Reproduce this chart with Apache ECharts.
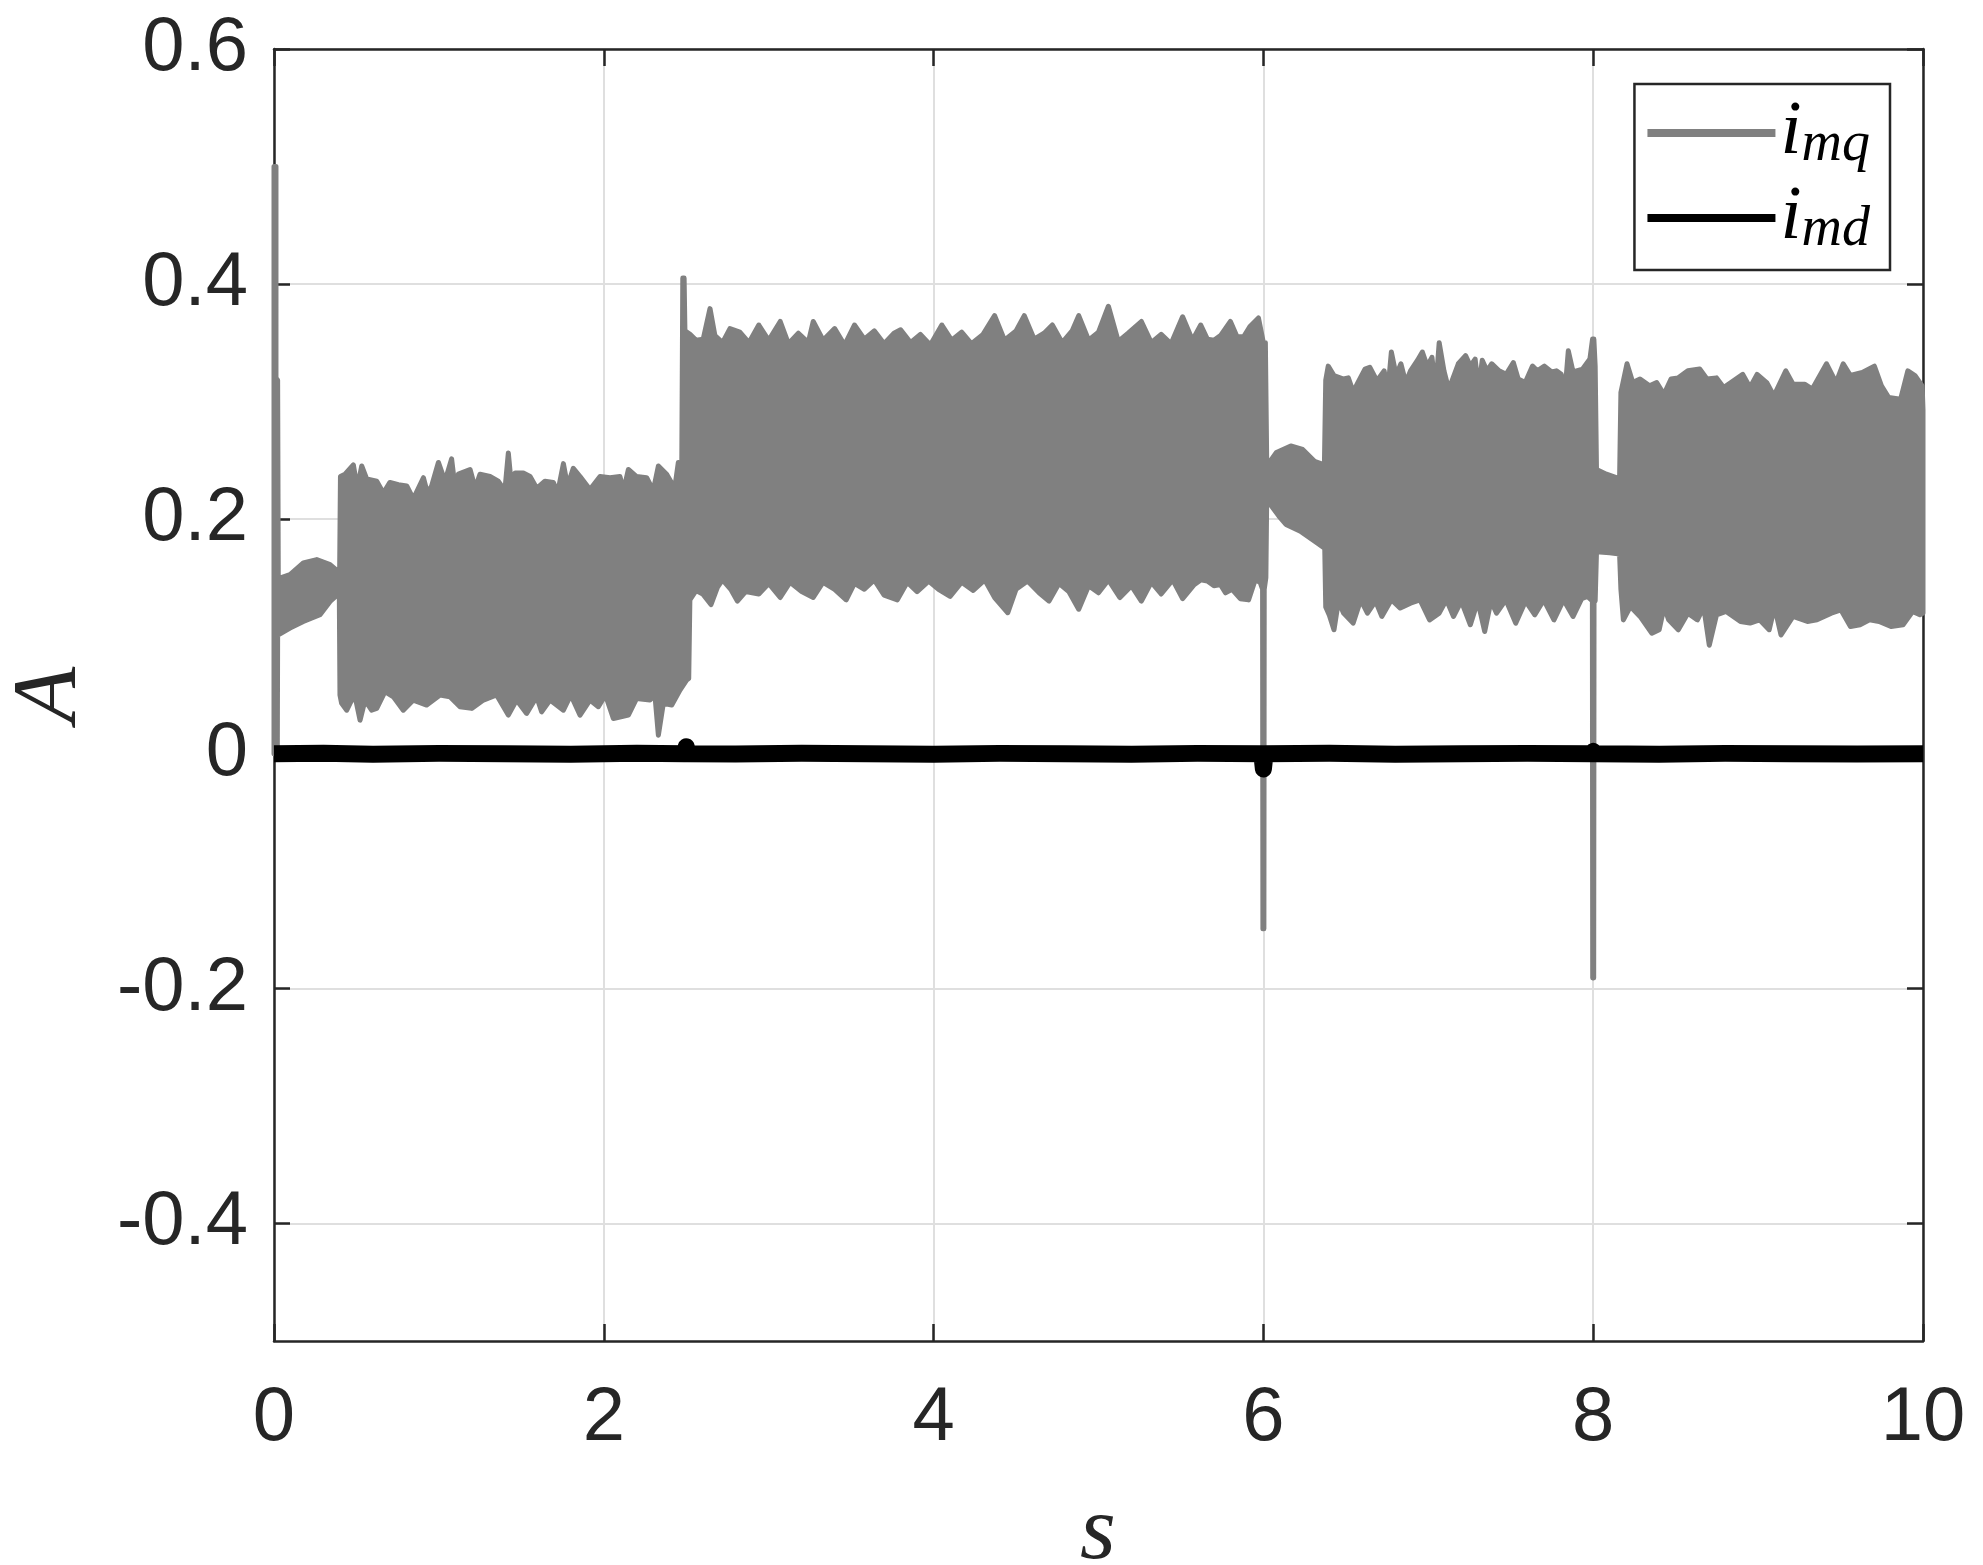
<!DOCTYPE html>
<html>
<head>
    <meta charset="utf-8">
    <title>imq / imd</title>
    <script src="https://cdn.jsdelivr.net/npm/echarts@6/dist/echarts.min.js"></script>
    <style>
        html, body { margin: 0; padding: 0; background: #fff; }
        #main { width: 1983px; height: 1565px; }
    </style>
</head>
<body>
<div id="main"></div>
<script>
    // axis ticks
    var xTicks = [0, 2, 4, 6, 8, 10];
    var yTicks = [-0.4, -0.2, 0, 0.2, 0.4, 0.6];

    // i_mq : upper edge of the gray band, [t, value]
    var qUpper = [
        [0, 0], [0, 0.5], [0.012, 0.5], [0.012, 0.32], [0.022, 0.318], [0.026, 0.149], [0.097, 0.1525],
        [0.178, 0.1624], [0.259, 0.1653], [0.34, 0.161], [0.39, 0.155], [0.398, 0.155],
        [0.403, 0.236], [0.431, 0.238], [0.481, 0.246], [0.505, 0.226], [0.532, 0.245], [0.562, 0.234],
        [0.623, 0.232], [0.663, 0.222], [0.703, 0.231], [0.754, 0.229], [0.805, 0.228], [0.845, 0.217],
        [0.906, 0.235], [0.93, 0.222], [0.956, 0.228], [0.997, 0.248], [1.037, 0.232], [1.077, 0.251],
        [1.1, 0.224], [1.118, 0.238], [1.189, 0.242], [1.22, 0.226], [1.249, 0.238], [1.31, 0.236],
        [1.36, 0.232], [1.4, 0.224], [1.421, 0.256], [1.44, 0.228], [1.462, 0.239], [1.512, 0.239],
        [1.553, 0.236], [1.593, 0.226], [1.643, 0.232], [1.694, 0.231], [1.72, 0.222], [1.755, 0.247],
        [1.78, 0.228], [1.815, 0.243], [1.856, 0.236], [1.916, 0.225], [1.977, 0.236], [2.038, 0.235],
        [2.098, 0.236], [2.12, 0.224], [2.149, 0.242], [2.199, 0.236], [2.26, 0.235], [2.3, 0.224],
        [2.331, 0.245], [2.381, 0.238], [2.43, 0.226], [2.452, 0.248], [2.472, 0.224],
        [2.479, 0.405], [2.487, 0.405], [2.492, 0.36],
        [2.523, 0.357], [2.56, 0.352], [2.603, 0.353], [2.644, 0.379], [2.674, 0.356], [2.72, 0.35],
        [2.765, 0.362], [2.825, 0.359], [2.88, 0.35], [2.94, 0.365], [3.0, 0.352], [3.07, 0.368],
        [3.12, 0.349], [3.18, 0.358], [3.24, 0.35], [3.27, 0.368], [3.33, 0.352], [3.4, 0.362],
        [3.46, 0.348], [3.52, 0.365], [3.58, 0.353], [3.64, 0.36], [3.7, 0.349], [3.76, 0.358],
        [3.8, 0.361], [3.86, 0.35], [3.92, 0.357], [3.98, 0.348], [4.05, 0.365], [4.11, 0.352],
        [4.17, 0.359], [4.23, 0.349], [4.3, 0.357], [4.37, 0.373], [4.43, 0.352], [4.5, 0.36],
        [4.55, 0.373], [4.61, 0.353], [4.67, 0.358], [4.72, 0.365], [4.78, 0.35], [4.84, 0.36],
        [4.88, 0.373], [4.94, 0.352], [5.0, 0.359], [5.06, 0.381], [5.12, 0.351], [5.18, 0.358],
        [5.26, 0.368], [5.32, 0.35], [5.38, 0.357], [5.44, 0.349], [5.51, 0.372], [5.57, 0.352],
        [5.62, 0.365], [5.66, 0.353], [5.7, 0.352], [5.74, 0.356], [5.8, 0.368], [5.84, 0.355],
        [5.88, 0.355], [5.92, 0.364], [5.97, 0.371], [6.0, 0.35], [6.012, 0.35],
        [6.02, 0.25], [6.036, 0.248], [6.079, 0.2565], [6.166, 0.262], [6.238, 0.259], [6.31, 0.249],
        [6.37, 0.246],
        [6.378, 0.318], [6.393, 0.33], [6.428, 0.322], [6.486, 0.319], [6.515, 0.32], [6.545, 0.308],
        [6.573, 0.316], [6.616, 0.3275], [6.645, 0.329], [6.689, 0.3175], [6.732, 0.326], [6.755, 0.309],
        [6.776, 0.342], [6.805, 0.322], [6.834, 0.332], [6.863, 0.316], [6.892, 0.326], [6.935, 0.335],
        [6.964, 0.342], [6.993, 0.33], [7.022, 0.3375], [7.045, 0.31], [7.066, 0.35], [7.095, 0.326],
        [7.124, 0.31], [7.182, 0.332], [7.226, 0.339], [7.255, 0.33], [7.284, 0.336], [7.305, 0.31],
        [7.327, 0.335], [7.356, 0.326], [7.385, 0.332], [7.429, 0.326], [7.472, 0.323], [7.516, 0.333],
        [7.545, 0.319], [7.588, 0.316], [7.632, 0.33], [7.661, 0.326], [7.704, 0.33], [7.748, 0.325],
        [7.777, 0.326], [7.806, 0.323], [7.83, 0.31], [7.849, 0.343], [7.878, 0.325], [7.936, 0.3275],
        [7.98, 0.336], [7.996, 0.353], [8.004, 0.353], [8.012, 0.33],
        [8.02, 0.242], [8.08, 0.238], [8.14, 0.235], [8.16, 0.234],
        [8.168, 0.3076], [8.205, 0.332], [8.24, 0.316], [8.284, 0.319], [8.342, 0.3132], [8.385, 0.316],
        [8.429, 0.3061], [8.472, 0.319], [8.516, 0.32], [8.574, 0.326], [8.646, 0.3275], [8.69, 0.319],
        [8.748, 0.32], [8.791, 0.3118], [8.835, 0.316], [8.907, 0.323], [8.951, 0.3118], [8.994, 0.323],
        [9.052, 0.316], [9.096, 0.3047], [9.168, 0.326], [9.212, 0.3146], [9.284, 0.3146], [9.328, 0.3104],
        [9.415, 0.332], [9.473, 0.316], [9.516, 0.332], [9.56, 0.322], [9.632, 0.3246], [9.705, 0.33],
        [9.748, 0.3132], [9.792, 0.3033], [9.864, 0.3018], [9.908, 0.326], [9.951, 0.322], [9.995, 0.3132],
        [10.0, 0.293]
    ];

    // i_mq : lower edge of the gray band, [t, value]
    var qLower = [
        [0, 0], [0.02, 0], [0.022, 0.1], [0.026, 0.1012], [0.097, 0.107], [0.178, 0.1126],
        [0.279, 0.1183], [0.34, 0.1297], [0.396, 0.1368],
        [0.4, 0.05], [0.41, 0.0429], [0.441, 0.0371], [0.461, 0.0429], [0.49, 0.05], [0.522, 0.0286],
        [0.552, 0.0457], [0.592, 0.0371], [0.623, 0.0386], [0.673, 0.0528], [0.724, 0.0485], [0.784, 0.0371],
        [0.845, 0.0457], [0.926, 0.0414], [1.007, 0.05], [1.067, 0.0485], [1.128, 0.04], [1.199, 0.0386],
        [1.27, 0.0457], [1.35, 0.05], [1.421, 0.0329], [1.471, 0.0457], [1.532, 0.0343], [1.593, 0.0485],
        [1.623, 0.0357], [1.674, 0.0457], [1.755, 0.0371], [1.8, 0.05], [1.856, 0.0329], [1.916, 0.0457],
        [1.967, 0.04], [2.01, 0.05], [2.058, 0.03], [2.149, 0.0329], [2.199, 0.0471], [2.28, 0.0457],
        [2.31, 0.05], [2.331, 0.0158], [2.361, 0.0429], [2.412, 0.0414], [2.462, 0.0542], [2.503, 0.0628],
        [2.515, 0.064],
        [2.522, 0.131], [2.56, 0.139], [2.6, 0.136], [2.65, 0.127], [2.69, 0.142], [2.72, 0.148],
        [2.77, 0.14], [2.81, 0.13], [2.86, 0.138], [2.94, 0.136], [3.0, 0.145], [3.07, 0.133],
        [3.13, 0.146], [3.2, 0.138], [3.27, 0.133], [3.33, 0.146], [3.4, 0.14], [3.47, 0.131],
        [3.52, 0.145], [3.58, 0.14], [3.64, 0.148], [3.7, 0.135], [3.78, 0.131], [3.84, 0.146],
        [3.9, 0.138], [3.97, 0.147], [4.03, 0.14], [4.1, 0.134], [4.17, 0.146], [4.24, 0.139],
        [4.31, 0.148], [4.37, 0.133], [4.45, 0.12], [4.5, 0.14], [4.57, 0.147], [4.64, 0.137],
        [4.7, 0.13], [4.76, 0.145], [4.82, 0.138], [4.88, 0.123], [4.94, 0.143], [5.0, 0.137],
        [5.06, 0.148], [5.13, 0.133], [5.2, 0.143], [5.26, 0.13], [5.32, 0.146], [5.38, 0.136],
        [5.45, 0.148], [5.51, 0.132], [5.58, 0.144], [5.62, 0.148], [5.66, 0.147], [5.7, 0.143],
        [5.74, 0.144], [5.77, 0.137], [5.81, 0.14], [5.86, 0.132], [5.91, 0.131], [5.95, 0.148],
        [5.98, 0.146], [5.995, 0.14], [5.997, -0.149], [6.003, -0.149], [6.005, 0.14], [6.015, 0.15],
        [6.02, 0.2165], [6.094, 0.2023], [6.137, 0.1952], [6.224, 0.1895], [6.339, 0.1782], [6.367, 0.1753],
        [6.372, 0.175],
        [6.378, 0.125], [6.4, 0.118], [6.428, 0.1055], [6.455, 0.13], [6.486, 0.1197], [6.544, 0.1112],
        [6.59, 0.131], [6.631, 0.1197], [6.68, 0.13], [6.718, 0.1169], [6.776, 0.1311], [6.83, 0.124],
        [6.892, 0.1282], [6.95, 0.131], [7.008, 0.114], [7.066, 0.1197], [7.11, 0.131], [7.153, 0.1169],
        [7.2, 0.13], [7.255, 0.1098], [7.3, 0.13], [7.342, 0.1041], [7.38, 0.13], [7.414, 0.1197],
        [7.47, 0.131], [7.53, 0.1112], [7.59, 0.13], [7.646, 0.1183], [7.7, 0.131], [7.762, 0.114],
        [7.82, 0.131], [7.878, 0.1169], [7.93, 0.132], [7.965, 0.1339], [7.995, 0.13], [7.997, -0.191],
        [8.003, -0.191], [8.005, 0.13], [8.012, 0.13],
        [8.02, 0.172], [8.1, 0.171], [8.16, 0.17],
        [8.168, 0.14], [8.183, 0.114], [8.226, 0.1254], [8.284, 0.1169], [8.356, 0.1026], [8.4, 0.1055],
        [8.43, 0.125], [8.458, 0.114], [8.516, 0.1055], [8.574, 0.1197], [8.632, 0.114], [8.67, 0.125],
        [8.704, 0.0924], [8.748, 0.1183], [8.806, 0.1211], [8.893, 0.1126], [8.951, 0.1112], [9.009, 0.114],
        [9.067, 0.1055], [9.1, 0.125], [9.139, 0.1012], [9.212, 0.1169], [9.299, 0.1126], [9.357, 0.114],
        [9.444, 0.1197], [9.502, 0.1225], [9.56, 0.1083], [9.618, 0.1098], [9.676, 0.114], [9.734, 0.1126],
        [9.806, 0.1083], [9.879, 0.1098], [9.937, 0.1211], [9.981, 0.1183], [10.0, 0.1197]
    ];

    // i_md : black trace around zero
    var mdTime = [0, 0.3, 0.6, 1.0, 1.4, 1.8, 2.2, 2.49, 2.5, 2.51, 2.8, 3.2, 3.6, 4.0, 4.4, 4.8, 5.2,
        5.6, 5.99, 6.0, 6.01, 6.4, 6.8, 7.2, 7.6, 7.99, 8.0, 8.01, 8.4, 8.8, 9.2, 9.6, 10];
    var mdValue = [0, 0.0004, -0.0004, 0.0003, 0, -0.0004, 0.0004, 0, 0.006, 0, -0.0003, 0.0004, 0, -0.0004,
        0.0003, 0, -0.0004, 0.0003, 0, -0.013, 0, 0.0004, -0.0004, 0, 0.0003, 0, 0.002, 0, -0.0004, 0.0003,
        0, -0.0003, 0];

    var axisColor = '#262626';
    var gridColor = '#dfdfdf';
    var grayColor = '#808080';

    var ring = qUpper.concat(qLower.slice().reverse());
    var mdData = mdTime.map(function (t, i) { return [t, mdValue[i]]; });

    function tickLabel(v) {
        if (Math.abs(v) < 1e-9) return '0';
        return String(Math.round(v * 10) / 10);
    }

    var chart = echarts.init(document.getElementById('main'));
    var option = {
        animation: false,
        backgroundColor: '#ffffff',
        grid: { left: 274, right: 60, top: 49, bottom: 224, containLabel: false, outerBoundsMode: 'none' },
        // x axis title, centred under the plot
        graphic: [{
            type: 'text',
            x: 1098,
            y: 1534,
            style: {
                text: 's',
                fontFamily: 'Liberation Serif',
                fontStyle: 'italic',
                fontSize: 92,
                fill: axisColor,
                align: 'center',
                verticalAlign: 'middle'
            }
        }],
        legend: {
            data: ['imq', 'imd'],
            orient: 'vertical',
            right: 93,
            top: 84,
            icon: 'rect',
            itemWidth: 128,
            itemHeight: 8,
            itemGap: 7,
            padding: [11, 20, 12, 13],
            borderColor: axisColor,
            borderWidth: 2.5,
            borderRadius: 0,
            backgroundColor: '#ffffff',
            formatter: function (name) {
                return name === 'imq' ? '{i|i}{s|mq}' : '{i|i}{s|md}';
            },
            textStyle: {
                color: '#000',
                rich: {
                    i: { fontFamily: 'Liberation Serif', fontStyle: 'italic', fontSize: 76, lineHeight: 80 },
                    s: { fontFamily: 'Liberation Serif', fontStyle: 'italic', fontSize: 56, lineHeight: 44, verticalAlign: 'bottom' }
                }
            }
        },
        xAxis: [{
            type: 'value', min: 0, max: 10, interval: 2,
            axisLine: { show: true, onZero: false, lineStyle: { color: axisColor, width: 2.5 } },
            axisTick: { show: true, inside: true, length: 17, lineStyle: { color: axisColor, width: 2.5 } },
            axisLabel: { fontFamily: 'Liberation Sans', fontSize: 76, color: axisColor, margin: 40 },
            splitLine: { show: true, lineStyle: { color: gridColor, width: 2 } }
        }, {
            type: 'value', min: 0, max: 10, interval: 2, position: 'top',
            axisLine: { show: true, onZero: false, lineStyle: { color: axisColor, width: 2.5 } },
            axisTick: { show: true, inside: true, length: 17, lineStyle: { color: axisColor, width: 2.5 } },
            axisLabel: { show: false },
            splitLine: { show: false }
        }],
        yAxis: [{
            type: 'value', min: -0.5, max: 0.6,
            name: 'A', nameLocation: 'middle', nameGap: 177, nameRotate: 90, nameMoveOverlap: false,
            nameTextStyle: { fontFamily: 'Liberation Serif', fontStyle: 'italic', fontSize: 92, color: axisColor },
            axisLine: { show: true, onZero: false, lineStyle: { color: axisColor, width: 2.5 } },
            axisTick: { show: true, inside: true, length: 16, customValues: yTicks, lineStyle: { color: axisColor, width: 2.5 } },
            axisLabel: { fontFamily: 'Liberation Sans', fontSize: 76, color: axisColor, margin: 26, customValues: yTicks, formatter: tickLabel },
            splitLine: { show: true, lineStyle: { color: gridColor, width: 2 } }
        }, {
            type: 'value', min: -0.5, max: 0.6, position: 'right',
            axisLine: { show: true, onZero: false, lineStyle: { color: axisColor, width: 2.5 } },
            axisTick: { show: true, inside: true, length: 16, customValues: yTicks, lineStyle: { color: axisColor, width: 2.5 } },
            axisLabel: { show: false, customValues: yTicks },
            splitLine: { show: false }
        }],
        series: [{
            name: 'imq',
            type: 'custom',
            coordinateSystem: 'cartesian2d',
            xAxisIndex: 0,
            yAxisIndex: 0,
            itemStyle: { color: grayColor },
            data: ring,
            encode: { x: 0, y: 1 },
            renderItem: function (params, api) {
                if (params.dataIndex !== 0) return null;
                var pts = ring.map(function (p) { return api.coord(p); });
                return {
                    type: 'polygon',
                    shape: { points: pts },
                    style: { fill: grayColor, stroke: grayColor, lineWidth: 5, lineJoin: 'round' }
                };
            }
        }, {
            name: 'imd',
            type: 'line',
            xAxisIndex: 0,
            yAxisIndex: 0,
            showSymbol: false,
            symbol: 'none',
            data: mdData,
            itemStyle: { color: '#000000' },
            lineStyle: { color: '#000000', width: 17, join: 'round' }
        }]
    };
    chart.setOption(option);
</script>
</body>
</html>
